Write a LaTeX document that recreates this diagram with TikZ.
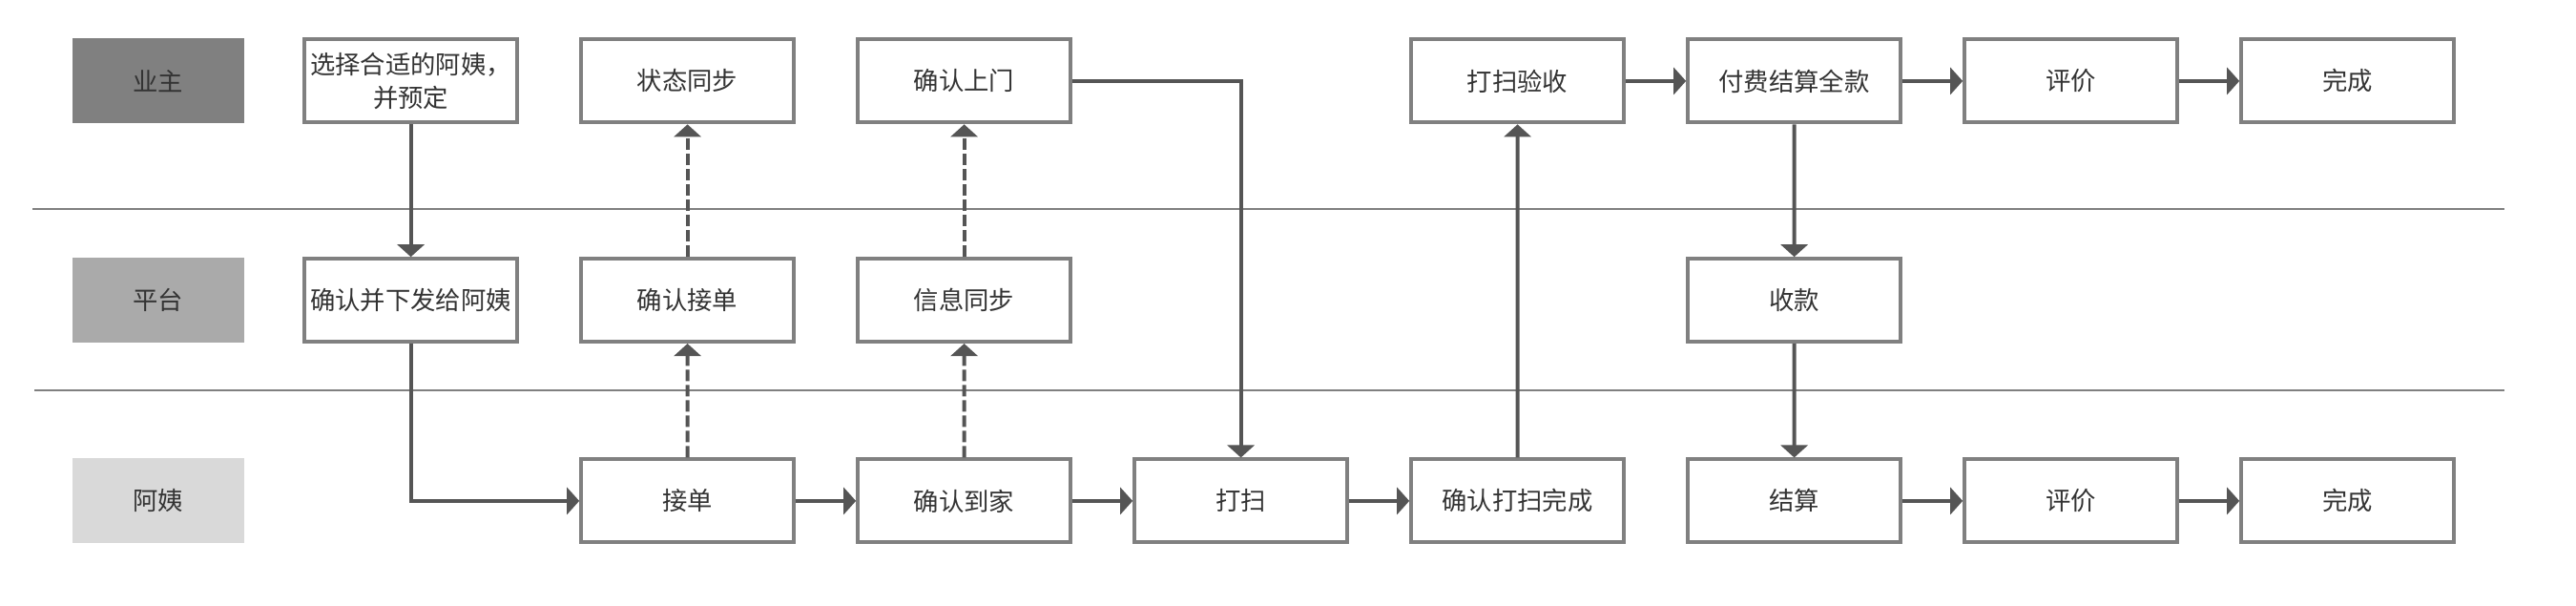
\documentclass[tikz,border=0pt]{standalone}
\usepackage{fontspec}
\setmainfont{Noto Sans CJK SC}
\usepackage{tikz}
\usetikzlibrary{shapes.geometric, arrows.meta}
\definecolor{ownergray}{HTML}{808080}
\definecolor{platgray}{HTML}{AAAAAA}
\definecolor{auntgray}{HTML}{D9D9D9}
\definecolor{boxgray}{HTML}{808080}
\definecolor{arrgray}{HTML}{555555}
\definecolor{txtgray}{HTML}{333333}
\tikzstyle{lane} = [rectangle, minimum width=1.8cm, minimum height=0.89cm, text=txtgray, font=\fontsize{7.5pt}{10pt}\selectfont]
\tikzstyle{box} = [rectangle, draw=boxgray, line width=1.1pt, minimum width=2.23cm, minimum height=0.87cm, inner xsep=1pt, fill=white, text=txtgray, align=center, font=\fontsize{7.5pt}{10pt}\selectfont]
\tikzstyle{arrow} = [line width=1.1pt, draw=arrgray, -{Triangle[length=1.3mm, width=2.8mm]}]
\tikzstyle{sync} = [arrow, dash pattern=on 1.2mm off 0.4mm]
\tikzstyle{swim} = [draw=boxgray, line width=0.6pt]

\begin{document}
\begin{tikzpicture}[node distance=2.9cm]
\useasboundingbox (0,0) rectangle (27,-6.34);
% swimlane separators
\draw [swim] (0.344,-2.188) -- (26.25,-2.188);
\draw [swim] (0.362,-4.088) -- (26.25,-4.088);

\node (yz) [lane, fill=ownergray] at (1.656,-0.849) {业主};
\node (pt) [lane, fill=platgray] at (1.656,-3.146) {平台};
\node (ay) [lane, fill=auntgray] at (1.656,-5.249) {阿姨};

\node (xz) [box, right of=yz, xshift=-0.25cm] {选择合适的阿姨，\\并预定};
\node (ztb) [box, right of=xz] {状态同步};
\node (qrsm) [box, right of=ztb] {确认上门};
\node (dsys) [box, right of=qrsm, xshift=2.9cm] {打扫验收};
\node (ffjs) [box, right of=dsys] {付费结算全款};
\node (pj1) [box, right of=ffjs] {评价};
\node (wc1) [box, right of=pj1] {完成};

\node (xf) [box, right of=pt, xshift=-0.25cm] {确认并下发给阿姨};
\node (qrjd) [box, right of=xf] {确认接单};
\node (xxtb) [box, right of=qrjd] {信息同步};
\node (sk) [box, right of=xxtb, xshift=5.8cm] {收款};

\node (jd) [box, right of=ay, xshift=2.65cm] {接单};
\node (qrdj) [box, right of=jd] {确认到家};
\node (ds) [box, right of=qrdj] {打扫};
\node (qrwc) [box, right of=ds] {确认打扫完成};
\node (js) [box, right of=qrwc] {结算};
\node (pj2) [box, right of=js] {评价};
\node (wc2) [box, right of=pj2] {完成};

\draw [arrow] (xz) -- (xf);
\draw [arrow] (xf) |- (jd);

\draw [sync] (jd) -- (qrjd);
\draw [sync] (qrjd) -- (ztb);
\draw [sync] (qrdj) -- (xxtb);
\draw [sync] (xxtb) -- (qrsm);

\draw [arrow] (jd) -- (qrdj);
\draw [arrow] (qrdj) -- (ds);
\draw [arrow] (qrsm) -| (ds);
\draw [arrow] (ds) -- (qrwc);
\draw [arrow] (qrwc) -- (dsys);

\draw [arrow] (dsys) -- (ffjs);
\draw [arrow] (ffjs) -- (pj1);
\draw [arrow] (pj1) -- (wc1);

\draw [arrow] (ffjs) -- (sk);
\draw [arrow] (sk) -- (js);
\draw [arrow] (js) -- (pj2);
\draw [arrow] (pj2) -- (wc2);
\end{tikzpicture}
\end{document}
